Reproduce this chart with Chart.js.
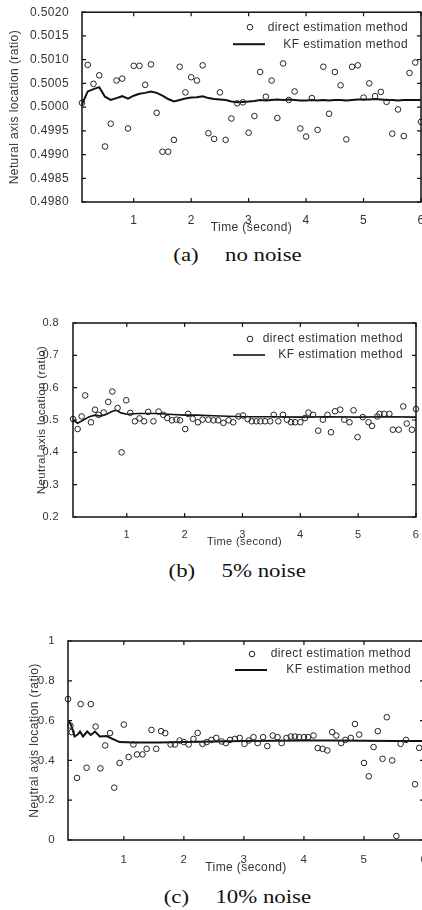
<!DOCTYPE html>
<html>
<head>
<meta charset="utf-8">
<script src="https://cdn.jsdelivr.net/npm/chart.js@4.4.1/dist/chart.umd.min.js"></script>
<style>
  body { margin: 0; width: 422px; height: 910px; overflow: hidden; background: #fff; position: relative; }
  canvas { position: absolute; left: 0; }
  .cap { position: absolute; left: 0; width: 474px; text-align: center; font-family: 'Liberation Serif', 'Times New Roman', serif; font-size: 19px; line-height: 22px; color: #111; }
  .cap .in { display: inline-block; transform: scaleX(1.2); }
</style>
</head>
<body>
<canvas id="chartA" width="430" height="240" style="top:0px"></canvas>
<div class="cap" style="top:244px"><span class="in">(a)<span style="margin-left:22px">no noise</span></span></div>
<canvas id="chartB" width="430" height="260" style="top:300px"></canvas>
<div class="cap" style="top:560px"><span class="in">(b)<span style="margin-left:22px">5% noise</span></span></div>
<canvas id="chartC" width="440" height="260" style="top:620px"></canvas>
<div class="cap" style="top:886px"><span class="in">(c)<span style="margin-left:22px">10% noise</span></span></div>

<script>
// x ticks shared by all three panels
const xTicks = [1, 2, 3, 4, 5, 6];
const xTickLabels = ['1', '2', '3', '4', '5', '6'];

// (a) no noise
const aYTicks = [0.4980, 0.4985, 0.4990, 0.4995, 0.5000, 0.5005, 0.5010, 0.5015, 0.5020];
const aYLabels = ['0.4980', '0.4985', '0.4990', '0.4995', '0.5000', '0.5005', '0.5010', '0.5015', '0.5020'];
const aTime = [0.1, 0.2, 0.3, 0.4, 0.5, 0.6, 0.7, 0.8, 0.9, 1.0,
  1.1, 1.2, 1.3, 1.4, 1.5, 1.6, 1.7, 1.8, 1.9, 2.0,
  2.1, 2.2, 2.3, 2.4, 2.5, 2.6, 2.7, 2.8, 2.9, 3.0,
  3.1, 3.2, 3.3, 3.4, 3.5, 3.6, 3.7, 3.8, 3.9, 4.0,
  4.1, 4.2, 4.3, 4.4, 4.5, 4.6, 4.7, 4.8, 4.9, 5.0,
  5.1, 5.2, 5.3, 5.4, 5.5, 5.6, 5.7, 5.8, 5.9, 6.0];
const aDirect = [0.50009, 0.50089, 0.50049, 0.50067, 0.49917, 0.49965, 0.50056, 0.50060, 0.49955, 0.50087,
  0.50087, 0.50047, 0.50090, 0.49988, 0.49906, 0.49906, 0.49931, 0.50085, 0.50031, 0.50063,
  0.50056, 0.50088, 0.49945, 0.49933, 0.50031, 0.49931, 0.49976, 0.50008, 0.50010, 0.49946,
  0.49981, 0.50074, 0.50022, 0.50056, 0.49977, 0.50092, 0.50015, 0.50033, 0.49955, 0.49938,
  0.50019, 0.49952, 0.50085, 0.49986, 0.50074, 0.50046, 0.49932, 0.50085, 0.50088, 0.50020,
  0.50050, 0.50023, 0.50032, 0.50011, 0.49944, 0.49995, 0.49939, 0.50072, 0.50094, 0.49969];
const aKf = [0.50006, 0.50033, 0.50038, 0.50042, 0.50022, 0.50015, 0.50019, 0.50023, 0.50018, 0.50024,
  0.50028, 0.50030, 0.50033, 0.50030, 0.50024, 0.50017, 0.50012, 0.50015, 0.50018, 0.50020,
  0.50021, 0.50023, 0.50019, 0.50017, 0.50016, 0.50015, 0.50012, 0.50010, 0.50011, 0.50012,
  0.50013, 0.50015, 0.50014, 0.50015, 0.50016, 0.50015, 0.50016, 0.50015, 0.50014, 0.50014,
  0.50015, 0.50014, 0.50015, 0.50014, 0.50015, 0.50015, 0.50014, 0.50015, 0.50016, 0.50016,
  0.50016, 0.50017, 0.50016, 0.50015, 0.50015, 0.50014, 0.50015, 0.50015, 0.50015, 0.50015];

// (b) 5% noise
const bYTicks = [0.2, 0.3, 0.4, 0.5, 0.6, 0.7, 0.8];
const bYLabels = ['0.2', '0.3', '0.4', '0.5', '0.6', '0.7', '0.8'];
const bTime = [0.07, 0.15, 0.22, 0.28, 0.38, 0.45, 0.51, 0.60, 0.68, 0.75,
  0.84, 0.91, 0.99, 1.06, 1.14, 1.22, 1.30, 1.37, 1.46, 1.55,
  1.63, 1.70, 1.78, 1.86, 1.92, 2.01, 2.06, 2.14, 2.23, 2.31,
  2.41, 2.50, 2.58, 2.67, 2.76, 2.84, 2.93, 3.01, 3.09, 3.16,
  3.24, 3.31, 3.39, 3.48, 3.54, 3.62, 3.70, 3.77, 3.84, 3.91,
  4.00, 4.08, 4.14, 4.22, 4.31, 4.39, 4.47, 4.53, 4.60, 4.69,
  4.76, 4.85, 4.92, 4.99, 5.08, 5.18, 5.24, 5.33, 5.37, 5.45,
  5.54, 5.60, 5.70, 5.78, 5.84, 5.93, 6.00];
const bDirect = [0.503, 0.472, 0.511, 0.576, 0.493, 0.532, 0.516, 0.523, 0.556, 0.588,
  0.537, 0.400, 0.561, 0.522, 0.496, 0.505, 0.496, 0.525, 0.496, 0.526,
  0.516, 0.506, 0.499, 0.501, 0.499, 0.472, 0.519, 0.504, 0.493, 0.501,
  0.501, 0.499, 0.499, 0.491, 0.499, 0.493, 0.511, 0.514, 0.503, 0.496,
  0.496, 0.496, 0.496, 0.496, 0.516, 0.496, 0.516, 0.501, 0.493, 0.493,
  0.493, 0.506, 0.523, 0.516, 0.467, 0.501, 0.516, 0.462, 0.527, 0.532,
  0.501, 0.493, 0.530, 0.447, 0.509, 0.493, 0.482, 0.511, 0.519, 0.519,
  0.519, 0.470, 0.470, 0.542, 0.489, 0.470, 0.534];
const bKfTime = [0.07, 0.15, 0.25, 0.35, 0.45, 0.55, 0.65, 0.75, 0.82, 0.90, 1.00, 1.20,
  1.50, 1.80, 2.00, 2.20, 2.50, 3.00, 3.50, 4.00, 4.50, 5.00, 5.50, 6.00];
const bKf = [0.500, 0.490, 0.500, 0.510, 0.515, 0.512, 0.518, 0.527, 0.530, 0.522, 0.518, 0.520,
  0.520, 0.517, 0.515, 0.515, 0.513, 0.510, 0.510, 0.509, 0.510, 0.509, 0.510, 0.509];

// (c) 10% noise
const cYTicks = [0, 0.2, 0.4, 0.6, 0.8, 1];
const cYLabels = ['0', '0.2', '0.4', '0.6', '0.8', '1'];
const cTime = [0.07, 0.11, 0.13, 0.22, 0.28, 0.38, 0.45, 0.53, 0.61, 0.69,
  0.77, 0.84, 0.93, 1.00, 1.08, 1.16, 1.22, 1.31, 1.38, 1.46,
  1.54, 1.62, 1.69, 1.78, 1.85, 1.93, 2.00, 2.08, 2.16, 2.23,
  2.31, 2.38, 2.46, 2.54, 2.63, 2.70, 2.77, 2.85, 2.93, 3.01,
  3.08, 3.16, 3.23, 3.32, 3.39, 3.48, 3.56, 3.63, 3.71, 3.78,
  3.85, 3.92, 4.00, 4.07, 4.16, 4.23, 4.31, 4.39, 4.47, 4.54,
  4.62, 4.69, 4.78, 4.85, 4.92, 5.00, 5.08, 5.16, 5.23, 5.31,
  5.38, 5.47, 5.54, 5.61, 5.70, 5.85, 5.92];
const cDirect = [0.708, 0.575, 0.542, 0.312, 0.683, 0.363, 0.683, 0.570, 0.360, 0.475,
  0.537, 0.263, 0.387, 0.580, 0.417, 0.480, 0.430, 0.430, 0.458, 0.553,
  0.458, 0.547, 0.537, 0.480, 0.480, 0.500, 0.492, 0.480, 0.508, 0.538,
  0.483, 0.492, 0.503, 0.513, 0.495, 0.487, 0.503, 0.508, 0.513, 0.483,
  0.500, 0.517, 0.487, 0.517, 0.472, 0.525, 0.517, 0.487, 0.513, 0.520,
  0.520, 0.517, 0.517, 0.517, 0.525, 0.462, 0.458, 0.450, 0.542, 0.525,
  0.487, 0.503, 0.513, 0.583, 0.530, 0.387, 0.320, 0.467, 0.547, 0.408,
  0.617, 0.400, 0.020, 0.483, 0.503, 0.280, 0.463];
const cKfTime = [0.07, 0.10, 0.13, 0.18, 0.23, 0.27, 0.32, 0.39, 0.45, 0.52, 0.60, 0.71, 0.82,
  0.93, 1.16, 1.60, 2.00, 2.50, 3.00, 3.50, 4.00, 4.50, 5.00, 5.50, 6.00];
const cKf = [0.600, 0.590, 0.570, 0.520, 0.530, 0.545, 0.520, 0.545, 0.528, 0.545, 0.520, 0.522, 0.507,
  0.492, 0.490, 0.490, 0.492, 0.495, 0.497, 0.499, 0.500, 0.500, 0.499, 0.497, 0.497];

const FONT = "'Liberation Sans', Arial, sans-serif";
const INK = '#333';

function pairs(xs, ys) {
  return xs.map((x, i) => ({ x: x, y: ys[i] }));
}

// matlab-like box with inward ticks, plus the legend in the top right corner
const frame = {
  id: 'frame',
  beforeDraw(chart) {
    chart.ctx.letterSpacing = '0.4px';
  },
  afterDatasetsDraw(chart, args, opts) {
    const ctx = chart.ctx;
    const a = chart.chartArea;
    const x = chart.scales.x, y = chart.scales.y;
    ctx.save();
    ctx.strokeStyle = '#111';
    ctx.lineWidth = 1.5;
    ctx.strokeRect(a.left, a.top, a.right - a.left, a.bottom - a.top);

    ctx.lineWidth = 1.2;
    ctx.beginPath();
    x.ticks.forEach(t => {
      const px = x.getPixelForValue(t.value);
      ctx.moveTo(px, a.bottom); ctx.lineTo(px, a.bottom - 4);
      ctx.moveTo(px, a.top); ctx.lineTo(px, a.top + 4);
    });
    y.ticks.forEach(t => {
      const py = y.getPixelForValue(t.value);
      ctx.moveTo(a.left, py); ctx.lineTo(a.left + 4, py);
      ctx.moveTo(a.right, py); ctx.lineTo(a.right - 4, py);
    });
    ctx.stroke();

    // legend
    const pts = chart.data.datasets[0];
    const line = chart.data.datasets[1];
    const mx = a.right - opts.dx;
    const r1 = a.top + opts.dy;
    const r2 = r1 + opts.gap;
    ctx.font = '12px ' + FONT;
    ctx.fillStyle = INK;
    ctx.textAlign = 'right';
    ctx.textBaseline = 'middle';
    ctx.beginPath();
    ctx.arc(mx, r1, 2.8, 0, Math.PI * 2);
    ctx.lineWidth = 1;
    ctx.strokeStyle = pts.borderColor;
    ctx.stroke();
    ctx.fillText(pts.label, a.right - 13, r1);
    ctx.beginPath();
    ctx.moveTo(mx - 17, r2);
    ctx.lineTo(mx + 15, r2);
    ctx.lineWidth = line.borderWidth;
    ctx.strokeStyle = line.borderColor;
    ctx.stroke();
    ctx.fillText(line.label, a.right - 13, r2);
    ctx.restore();
  }
};

function makePanel(id, p) {
  const ctx = document.getElementById(id).getContext('2d');
  return new Chart(ctx, {
    type: 'scatter',
    data: {
      datasets: [{
        label: 'direct estimation method',
        data: pairs(p.time, p.direct),
        showLine: false,
        pointStyle: 'circle',
        pointRadius: 2.8,
        pointBorderWidth: 1,
        borderColor: '#222',
        backgroundColor: 'rgba(0,0,0,0)',
        clip: false
      }, {
        label: 'KF estimation method',
        data: pairs(p.kfTime, p.kf),
        showLine: true,
        pointRadius: 0,
        borderWidth: p.lineWidth,
        borderColor: '#111',
        tension: 0
      }]
    },
    options: {
      responsive: false,
      animation: false,
      events: [],
      layout: { padding: { top: p.top, right: p.right, left: 0, bottom: 0 } },
      plugins: {
        legend: { display: false },
        tooltip: { enabled: false },
        frame: p.legend
      },
      scales: {
        x: {
          type: 'linear',
          min: p.xMin,
          max: 6,
          grid: { display: false },
          border: { display: false },
          afterBuildTicks: s => { s.ticks = xTicks.map(v => ({ value: v })); },
          afterFit: s => { s.height = p.xHeight; },
          ticks: {
            autoSkip: false, maxRotation: 0, padding: p.xPad, color: INK,
            font: { family: FONT, size: p.tickSize },
            callback: (v, i) => xTickLabels[i]
          },
          title: {
            display: true, text: 'Time (second)', color: INK,
            font: { family: FONT, size: p.titleSize },
            padding: { top: 0, bottom: p.xTitlePad }
          }
        },
        y: {
          type: 'linear',
          min: p.yTicks[0],
          max: p.yTicks[p.yTicks.length - 1],
          grid: { display: false },
          border: { display: false },
          afterBuildTicks: s => { s.ticks = p.yTicks.map(v => ({ value: v })); },
          afterFit: s => { s.width = p.yWidth; },
          ticks: {
            autoSkip: false, padding: p.yPad, color: INK,
            font: { family: FONT, size: p.tickSize },
            callback: (v, i) => p.yLabels[i]
          },
          title: {
            display: true, text: p.yTitle, color: INK,
            font: { family: FONT, size: p.yTitleSize },
            padding: { top: p.yTitlePad, bottom: 0 }
          }
        }
      }
    },
    plugins: [frame]
  });
}

makePanel('chartA', {
  time: aTime, direct: aDirect, kfTime: aTime, kf: aKf,
  yTicks: aYTicks, yLabels: aYLabels, xMin: 0.1,
  top: 10, right: 9, yWidth: 82, xHeight: 38,
  xPad: 3, xTitlePad: 4.8, yPad: 5, yTitlePad: 7.8,
  tickSize: 12, titleSize: 12, yTitleSize: 12, lineWidth: 2,
  yTitle: 'Netural axis location (ratio)',
  legend: { dx: 171, dy: 15, gap: 17 }
});

makePanel('chartB', {
  time: bTime, direct: bDirect, kfTime: bKfTime, kf: bKf,
  yTicks: bYTicks, yLabels: bYLabels, xMin: 0.07,
  top: 23, right: 14, yWidth: 73, xHeight: 43,
  xPad: 3.4, xTitlePad: 11.4, yPad: 6, yTitlePad: 35,
  tickSize: 11, titleSize: 11, yTitleSize: 11.5, lineWidth: 1.6,
  yTitle: 'Neutral axis location (ratio)',
  legend: { dx: 166, dy: 16, gap: 16 }
});

makePanel('chartC', {
  time: cTime, direct: cDirect, kfTime: cKfTime, kf: cKf,
  yTicks: cYTicks, yLabels: cYLabels, xMin: 0.07,
  top: 21, right: 16, yWidth: 68, xHeight: 40,
  xPad: 4.5, xTitlePad: 4.8, yPad: 5, yTitlePad: 27.8,
  tickSize: 11.5, titleSize: 12, yTitleSize: 12, lineWidth: 2,
  yTitle: 'Neutral axis location (ratio)',
  legend: { dx: 172, dy: 13, gap: 16 }
});
</script>
</body>
</html>
